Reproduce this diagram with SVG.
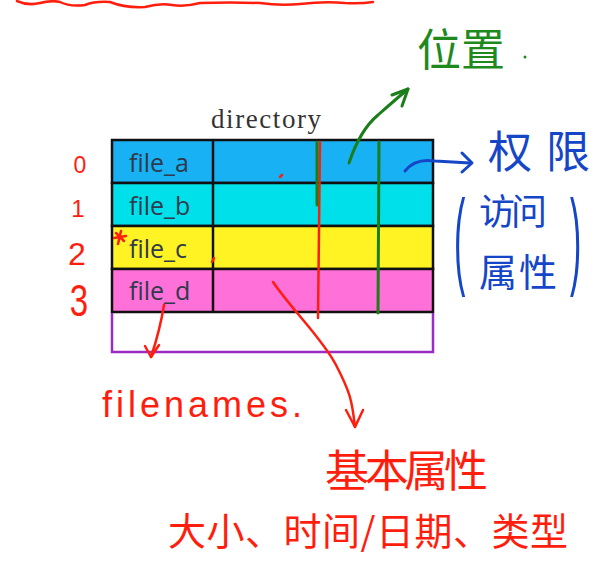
<svg xmlns="http://www.w3.org/2000/svg" width="603" height="580" viewBox="0 0 603 580">
<style>
.cell{stroke:#111;stroke-width:2.5}
.fn{font-family:"Open Sans","Noto Sans","Liberation Sans",sans-serif;font-size:25px;fill:#2f3a4c}
.red{fill:#ff1e0e}
.redS{stroke:#ff1e0e;fill:none;stroke-width:2.5;stroke-linecap:round;stroke-linejoin:round}
.grnS{stroke:#1b7e1b;fill:none;stroke-width:3;stroke-linecap:round;stroke-linejoin:round}
.bluS{stroke:#1646c8;fill:none;stroke-width:3;stroke-linecap:round;stroke-linejoin:round}
.hand{font-family:"Noto Sans CJK SC","Noto Sans",sans-serif}
.num{font-family:"Liberation Sans",sans-serif;fill:#ff1e0e;text-anchor:middle}
.paren{font-family:"Liberation Sans",sans-serif;font-size:40px;fill:#1646c8}
</style>
<rect width="603" height="580" fill="#ffffff"/>

<!-- top wavy red stroke -->
<path class="redS" stroke-width="3" d="M17,1 Q28,6 40,3 Q52,0 60,2 Q70,7 85,5 Q95,1 110,2 Q125,8 145,7 Q160,3 172,5 Q185,7 200,3 Q230,2 260,3 Q280,6 300,4 Q325,1 345,3 Q360,4 373,2"/>

<g id="directory-label">
<text x="266" y="128" font-family="Liberation Serif,serif" font-size="27" fill="#333" text-anchor="middle" textLength="110">directory</text>
</g>

<g id="row-a">
<rect class="cell" x="112" y="140" width="321" height="43" fill="#18b1f4"/>
<line class="cell" x1="213" y1="140" x2="213" y2="183"/>
<text class="fn" x="129" y="172">file_a</text>
</g>
<g id="row-b">
<rect class="cell" x="112" y="183" width="321" height="43" fill="#00e0ea"/>
<line class="cell" x1="213" y1="183" x2="213" y2="226"/>
<text class="fn" x="129" y="215">file_b</text>
</g>
<g id="row-c">
<rect class="cell" x="112" y="226" width="321" height="43" fill="#fff323"/>
<line class="cell" x1="213" y1="226" x2="213" y2="269"/>
<text class="fn" x="129" y="258">file_c</text>
</g>
<g id="row-d">
<rect class="cell" x="112" y="269" width="321" height="43" fill="#ff70d8"/>
<line class="cell" x1="213" y1="269" x2="213" y2="312"/>
<text class="fn" x="129" y="300">file_d</text>
</g>

<g id="indices">
<text class="num" x="80" y="173" font-size="23">0</text>
<text class="num" x="78" y="217" font-size="24">1</text>
<text class="num" x="77" y="265" font-size="32">2</text>
<text class="num" transform="translate(79,316) scale(0.75,1)" x="0" y="0" font-size="44">3</text>
</g>

<g id="bracket">
<path d="M112,313 L112,352 L433,352 L433,313" fill="none" stroke="#9c2bc4" stroke-width="2.5"/>
</g>

<g id="connectors">
<!-- red vertical divider -->
<path class="redS" stroke-width="3" d="M320,142 L318,318"/>
<path class="grnS" stroke-width="2" d="M317,142 L317,205"/>
<!-- green vertical divider -->
<path class="grnS" stroke-width="3.5" d="M379,142 L378,313"/>
<!-- green arrow to 位置 -->
<path class="grnS" d="M349,163 Q360,130 378,115 Q395,100 408,89"/>
<path class="grnS" d="M392,95 L408,89 L402,106"/>
<!-- blue arrow to 权限 -->
<path class="bluS" d="M405,171 Q415,158 435,161 L470,163"/>
<path class="bluS" d="M462,153 L472,163 L462,172"/>
<!-- red arrow from file_d to filenames -->
<path class="redS" d="M164,305 Q160,330 151,357"/>
<path class="redS" d="M145,346 L151,357 L159,345"/>
<!-- red arrow to 基本属性 -->
<path class="redS" d="M273,282 C292,310 322,338 336,365 S352,400 355,427"/>
<path class="redS" d="M346,410 L355,427 L363,410"/>
<!-- stray marks -->
<path class="redS" stroke-width="2.5" d="M116,233 L124,241 M121,231 L118,244 M114,238 L126,236"/>
<path class="redS" stroke-width="2" d="M280,177 L282,175"/>
<path class="redS" stroke-width="2" d="M212,262 L214,258"/>
</g>

<g id="label-position">
<text class="hand" x="417" y="66" font-size="44" fill="#1e8a1e">位置</text>
<circle cx="525" cy="57" r="1.5" fill="#1e8a1e"/>
</g>

<g id="label-permission">
<text class="hand" x="488" y="168" font-size="44" fill="#1646c8" textLength="102">权限</text>
<text class="paren" transform="translate(454,275) scale(0.85,2.7)" x="0" y="0">(</text>
<text class="hand" x="479" y="225" font-size="36" fill="#1646c8" textLength="68">访问</text>
<text class="hand" x="479" y="286" font-size="38" fill="#1646c8" textLength="78">属性</text>
<text class="paren" transform="translate(570,275) scale(0.85,2.7)" x="0" y="0">)</text>
</g>

<g id="label-filenames">
<text x="102" y="417" font-family="Liberation Sans,sans-serif" font-size="36" class="red" textLength="200">filenames.</text>
</g>

<g id="label-basic">
<text class="hand red" x="325" y="487" font-size="44" textLength="163">基本属性</text>
<text class="hand red" x="168" y="545" font-size="38" textLength="400">大小、时间/日期、类型</text>
</g>
</svg>
